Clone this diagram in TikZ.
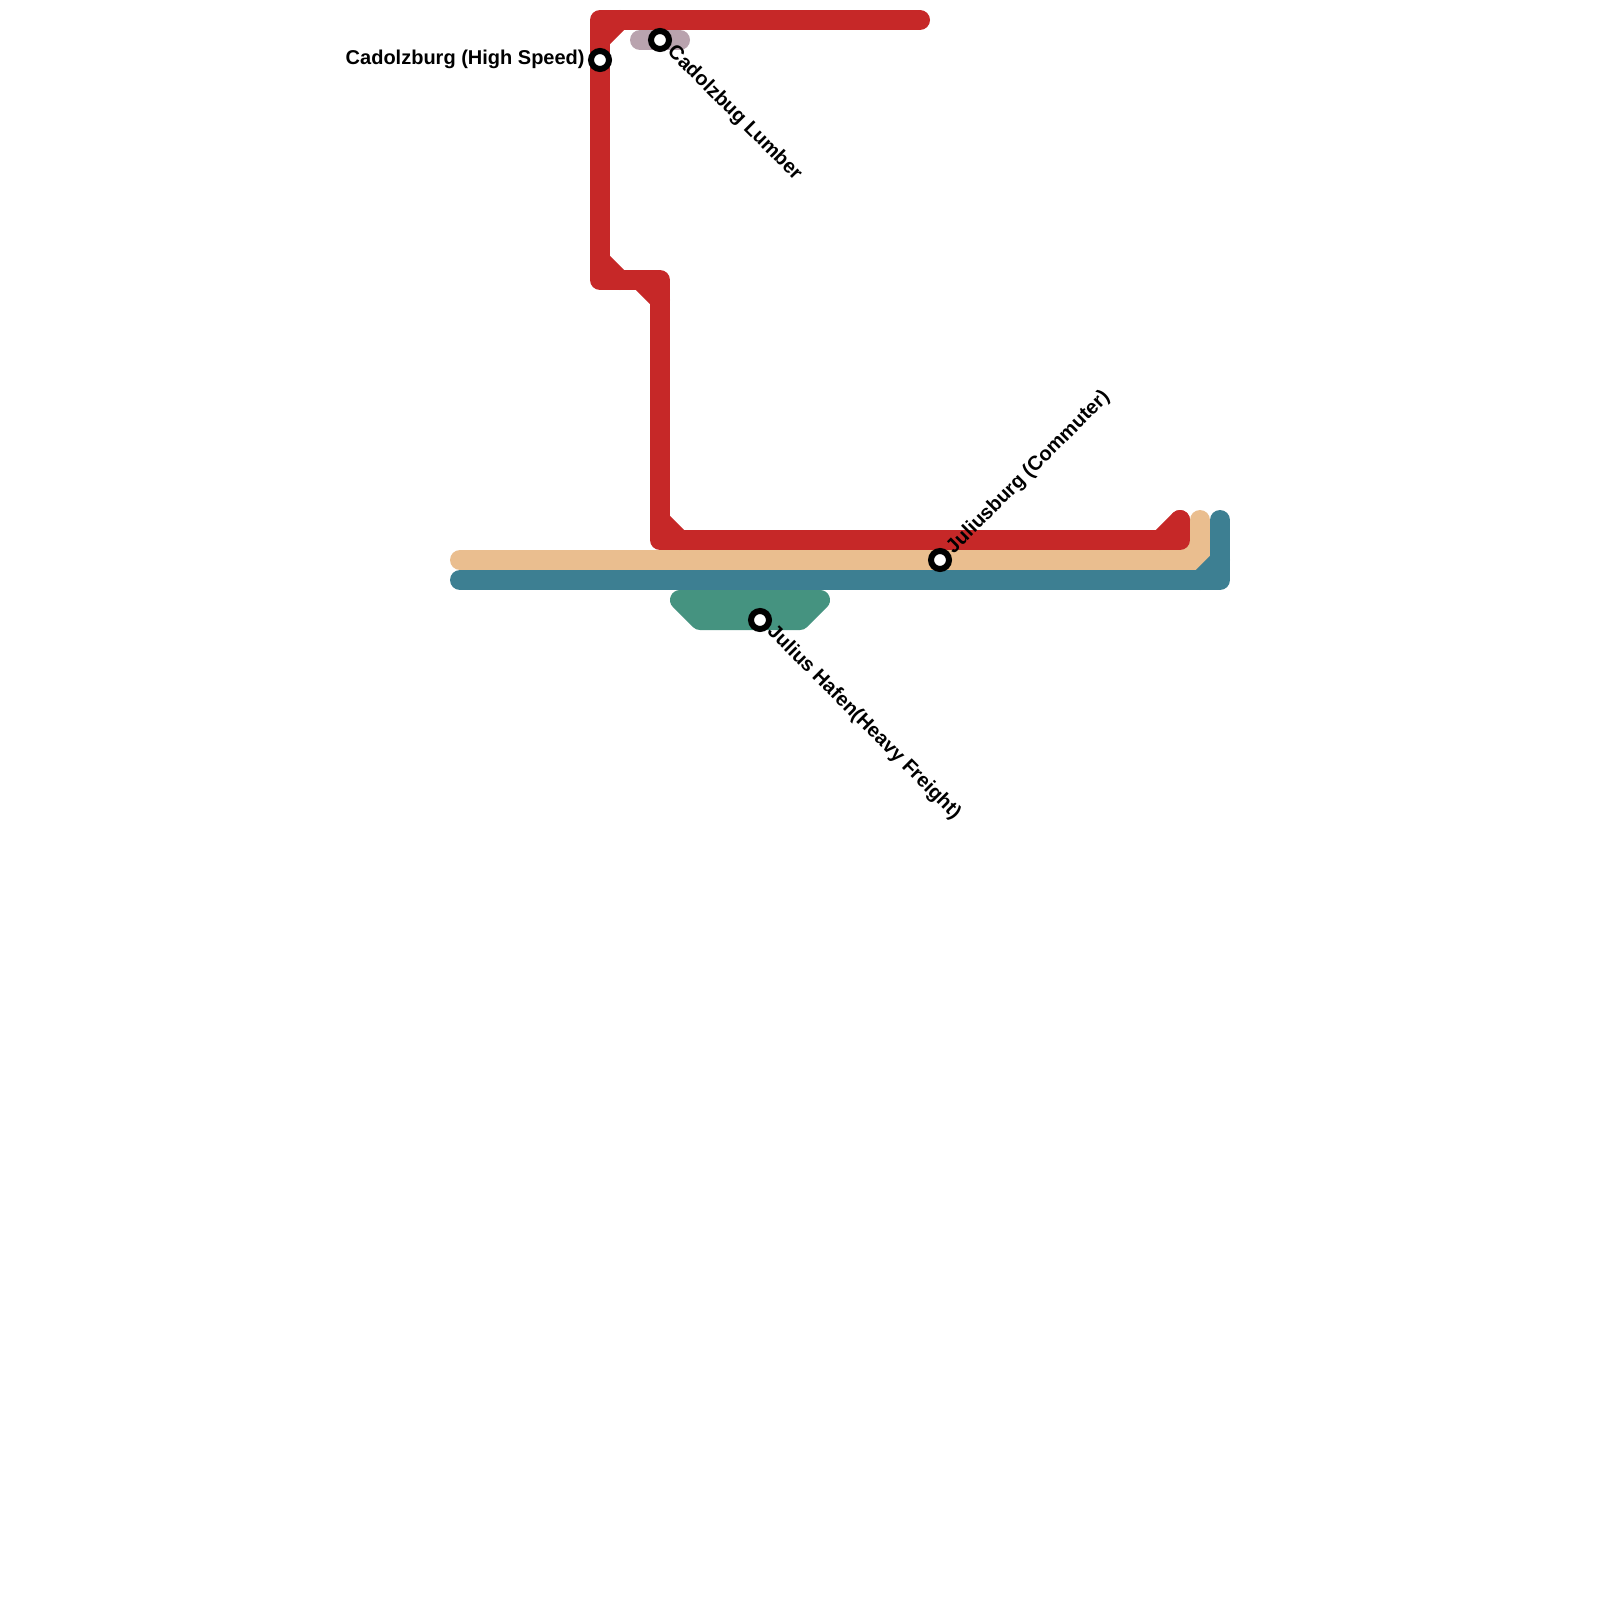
\documentclass[tikz,border=0pt]{standalone}
\usepackage{fontspec}
\setmainfont{Liberation Sans}
\usepackage{xcolor}
\usetikzlibrary{calc}
\definecolor{linered}{HTML}{C62828}
\definecolor{linetan}{HTML}{EABE8F}
\definecolor{lineteal}{HTML}{3D7F92}
\definecolor{linegreen}{HTML}{459380}
\definecolor{linemauve}{HTML}{B9A3AE}

\begin{document}
\begin{tikzpicture}[
  x=0.5pt,y=-0.5pt,
  route/.style={draw=#1,line width=10pt,line cap=round,line join=round},
  stn/.style={circle,draw=black,fill=white,line width=3pt,minimum size=9pt,inner sep=0pt},
  lab/.style={font=\bfseries\fontsize{10pt}{12pt}\selectfont,inner sep=0pt}]
\useasboundingbox (0,0) rectangle (1600,1600);
% stations
\coordinate (hs) at (600,60);
\coordinate (lumber) at (660,40);
\coordinate (comm) at (940,560);
\coordinate (hafen) at (760,620);
% tan and teal
\draw[route=linetan] (460,560) -- (1200,560) -- (1200,520);
\draw[route=linetan] (1180,560) -- (1200,540);
\draw[route=lineteal] (460,580) -- (1220,580) -- (1220,520);
\draw[route=lineteal] (1200,580) -- (1220,560);
% red
\draw[route=linered] (920,20) -- (600,20) -- (600,280) -- (660,280) -- (660,540) -- (1180,540) -- (1180,520);
\draw[route=linered] (620,20) -- (600,40);
\draw[route=linered] (600,260) -- (620,280);
\draw[route=linered] (640,280) -- (660,300);
\draw[route=linered] (660,520) -- (680,540);
\draw[route=linered] (1160,540) -- (1180,520);
% harbour and lumber spurs
\draw[route=linegreen] (680,600) -- (820,600) -- (800,620) -- (700,620) -- cycle;
\draw[route=linemauve] (640,40) -- (680,40);
\node[stn] (hsstn) at (hs) {};
\node[stn] (lumberstn) at (lumber) {};
\node[stn] (commstn) at (comm) {};
\node[stn] (hafenstn) at (hafen) {};
\node[lab,anchor=east] (hslab) at (585,59) {Cadolzburg (High Speed)};
\node[lab,anchor=west,rotate=-45] (lumberlab) at ($(lumber)+(10,9)$) {Cadolzbug Lumber};
\node[lab,anchor=west,rotate=45] (commlab) at ($(comm)+(10,-9)$) {Juliusburg (Commuter)};
\node[lab,anchor=west,rotate=-45] (hafenlab) at ($(hafen)+(10,9)$) {Julius Hafen(Heavy Freight)};
\end{tikzpicture}
\end{document}
